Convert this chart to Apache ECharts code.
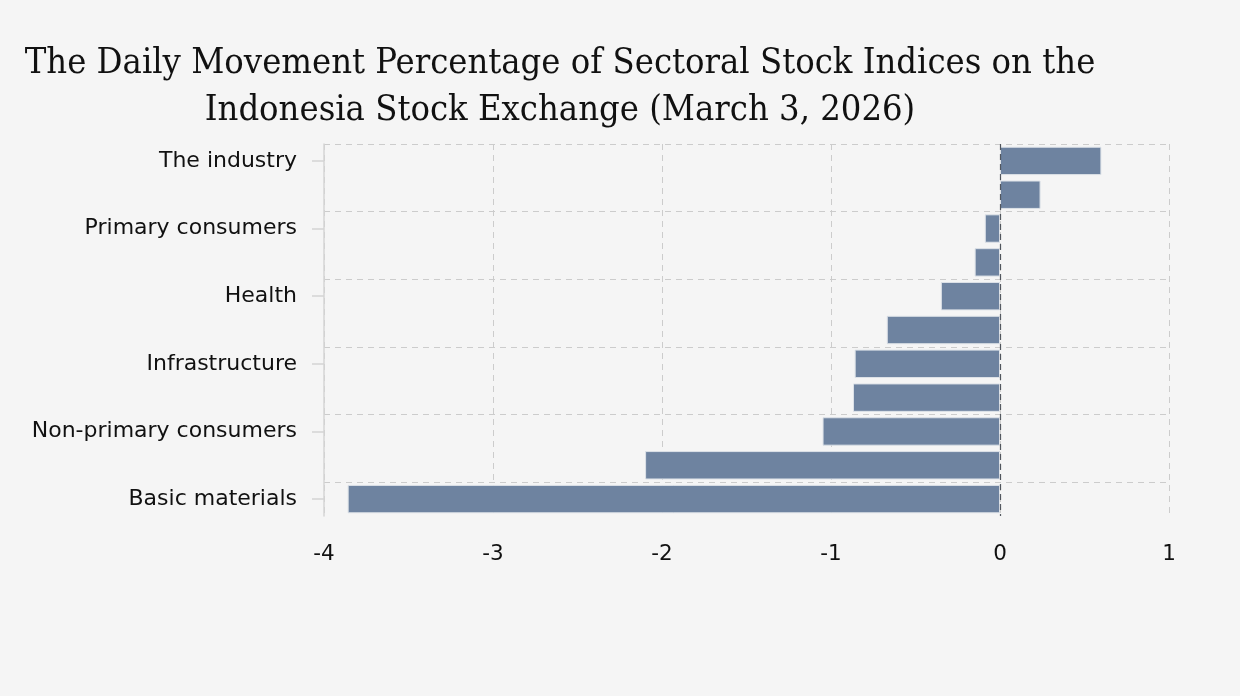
<!DOCTYPE html>
<html>
<head>
<meta charset="utf-8">
<script src="https://cdn.jsdelivr.net/npm/echarts@6/dist/echarts.min.js"></script>
<style>
html,body{margin:0;padding:0;background:#f5f5f5;}
#chart{width:1240px;height:696px;}
</style>
</head>
<body>
<div id="chart"></div>
<script>
// Categories from top to bottom
var categories = ['The industry', 'Energy', 'Primary consumers', 'Finance', 'Health', 'Property',
  'Infrastructure', 'Technology', 'Non-primary consumers', 'Transportation', 'Basic materials'];
var values = [0.60, 0.24, -0.09, -0.15, -0.35, -0.67, -0.86, -0.87, -1.05, -2.10, -3.86];
var xTicks = { min: -4, max: 1, interval: 1 };
var titleText = 'The Daily Movement Percentage of Sectoral Stock Indices on the\nIndonesia Stock Exchange (March 3, 2026)';

var chart = echarts.init(document.getElementById('chart'), null, { renderer: 'canvas' });
chart.setOption({
  backgroundColor: '#f5f5f5',
  animation: false,
  title: {
    text: titleText,
    left: 555,
    top: 35,
    textAlign: 'center',
    textStyle: {
      fontFamily: 'DejaVu Serif Condensed',
      fontWeight: 'normal',
      fontSize: 36,
      lineHeight: 47,
      color: '#111'
    }
  },
  grid: { left: 324, right: 71, top: 144, bottom: 180 },
  xAxis: {
    type: 'value',
    min: xTicks.min,
    max: xTicks.max,
    interval: xTicks.interval,
    axisLine: { show: false },
    axisTick: { show: false },
    axisLabel: { margin: 27, fontFamily: 'DejaVu Sans', fontSize: 21.5, color: '#111' },
    splitLine: { show: true, lineStyle: { color: '#cccccc', type: [6, 5], width: 1 } }
  },
  yAxis: {
    type: 'category',
    inverse: true,
    data: categories,
    axisLine: { show: true, onZero: false, lineStyle: { color: '#d4d4d4', width: 1.5 } },
    axisTick: { show: true, interval: 1, alignWithLabel: true, length: 12, lineStyle: { color: '#d4d4d4', width: 1.5 } },
    axisLabel: { interval: 1, margin: 27, fontFamily: 'DejaVu Sans', fontSize: 22, color: '#111' },
    splitLine: { show: true, interval: 1, showMaxLine: false, lineStyle: { color: '#cccccc', type: [6, 5], width: 1 } }
  },
  series: [{
    type: 'bar',
    data: values,
    barCategoryGap: '16%',
    itemStyle: { color: '#6e83a0', borderColor: '#dde2e8', borderWidth: 1 },
    markLine: {
      silent: true,
      symbol: 'none',
      label: { show: false },
      lineStyle: { color: '#3a3f48', type: [6, 4], width: 1.2, opacity: 0.85 },
      data: [{ xAxis: 0 }]
    }
  }]
});
</script>
</body>
</html>
